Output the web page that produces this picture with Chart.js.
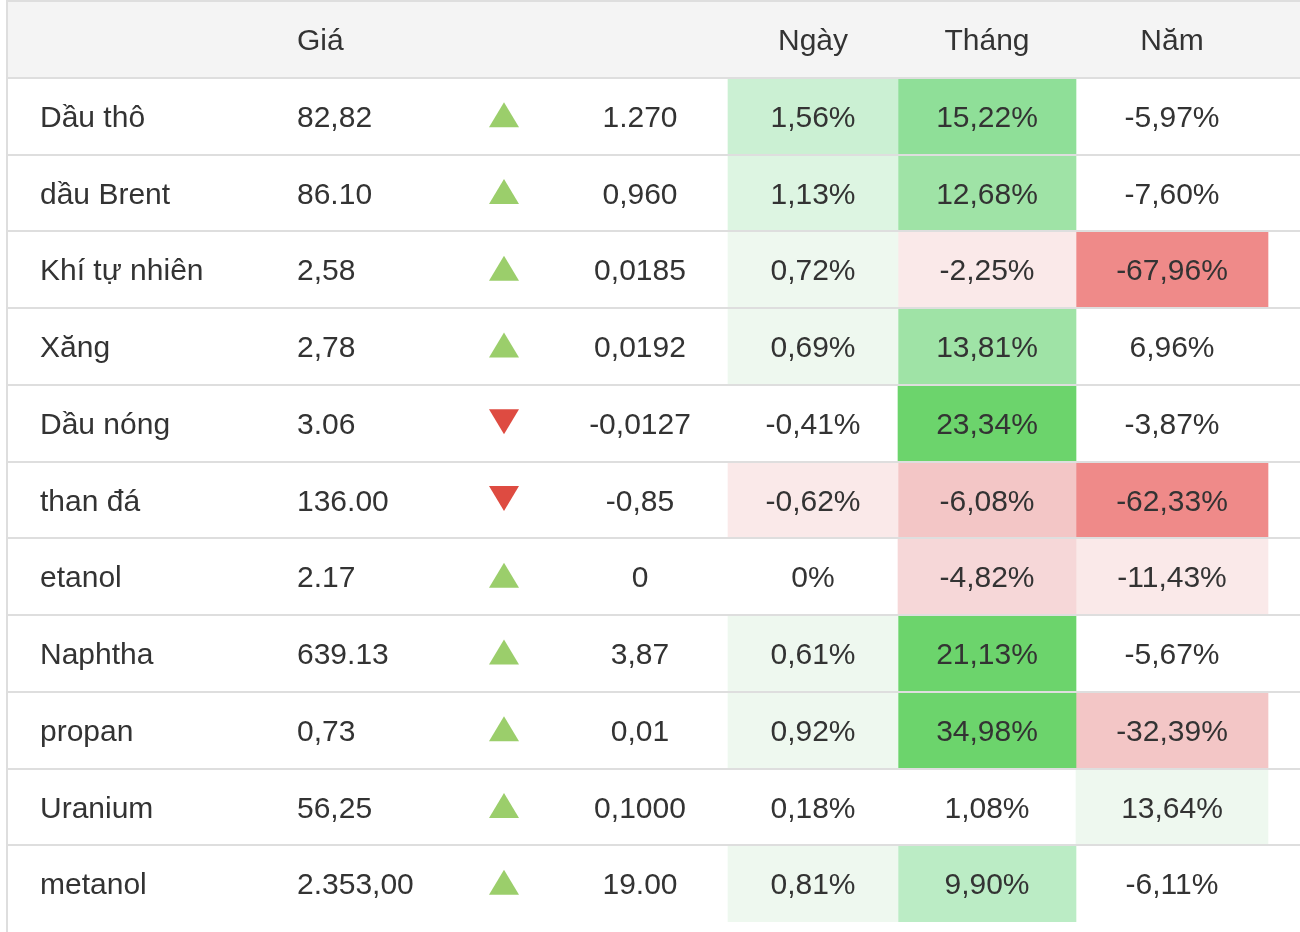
<!DOCTYPE html>
<html lang="vi">
<head>
<meta charset="utf-8">
<title>Năng lượng</title>
<script src="https://cdn.jsdelivr.net/npm/chart.js@4.4.1/dist/chart.umd.min.js"></script>
<style>
  html, body { margin: 0; padding: 0; background: #ffffff; }
  #wrap { position: relative; width: 1300px; height: 932px; }
</style>
</head>
<body>
<div id="wrap"><canvas id="energy-table"></canvas></div>
<script>
// Données du tableau
const headers = ["Giá", "Ngày", "Tháng", "Năm"];
const names = ["Dầu thô", "dầu Brent", "Khí tự nhiên", "Xăng", "Dầu nóng", "than đá", "etanol", "Naphtha", "propan", "Uranium", "metanol"];
const prices = ["82,82", "86.10", "2,58", "2,78", "3.06", "136.00", "2.17", "639.13", "0,73", "56,25", "2.353,00"];
const changes = ["1.270", "0,960", "0,0185", "0,0192", "-0,0127", "-0,85", "0", "3,87", "0,01", "0,1000", "19.00"];
const dayPct = [1.56, 1.13, 0.72, 0.69, -0.41, -0.62, 0, 0.61, 0.92, 0.18, 0.81];
const monthPct = [15.22, 12.68, -2.25, 13.81, 23.34, -6.08, -4.82, 21.13, 34.98, 1.08, 9.90];
const yearPct = [-5.97, -7.6, -67.96, 6.96, -3.87, -62.33, -11.43, -5.67, -32.39, 13.64, -6.11];

// Mise en page (pixels)
const LEFT = 8;
const RIGHT = 1300;
const COL = {
  name: 40,
  price: 297,
  arrow: 504,
  change: 640,
  day: [728, 898],
  month: [898, 1076],
  year: [1076, 1268],
};
const FONT = '30px "Liberation Sans", Arial, sans-serif';
const TEXT = "#333333";
const LINE = "#dedede";

const GREENS = ["#eef8ef", "#ddf5e2", "#cbf0d3", "#bbecc5", "#9fe3a6", "#8fdf98", "#6cd46c"];
const REDS = ["#fae9e9", "#f6d7d8", "#f3c6c6", "#f1a8a8", "#ef8a89"];
const STEPS = {
  day: [0.5, 1, 1.5, 2, 3, 4, 5],
  month: [2, 4, 6, 8, 12, 15, 20],
  year: [10, 20, 30, 45, 60],
};

function shade(v, steps) {
  const level = steps.filter((s) => Math.abs(v) >= s).length;
  if (level === 0) return "rgba(0,0,0,0)";
  const pal = v > 0 ? GREENS : REDS;
  return pal[Math.min(level, pal.length) - 1];
}

function fmtPct(v) {
  if (v === 0) return "0%";
  return v.toFixed(2).replace(".", ",") + "%";
}

const rowLabels = [""].concat(names);

function cellDataset(values, edges, steps) {
  return {
    type: "bar",
    grouped: false,
    data: [null].concat(values.map(() => edges)),
    backgroundColor: ["rgba(0,0,0,0)"].concat(values.map((v) => shade(v, steps))),
    borderWidth: 0,
    categoryPercentage: 1,
    barPercentage: 1,
  };
}

// Textes et flèches dessinés sur les échelles
const tablePlugin = {
  id: "tableText",
  afterDatasetsDraw(chart) {
    const { ctx, scales } = chart;
    const x = scales.x;
    const y = scales.y;
    const capHalf = 30 * 0.716 / 2;
    ctx.save();
    ctx.font = FONT;
    ctx.fillStyle = TEXT;
    ctx.textBaseline = "alphabetic";

    // En-tête
    const hy = y.getPixelForValue(0) + capHalf;
    ctx.textAlign = "left";
    ctx.fillText(headers[0], x.getPixelForValue(COL.price), hy);
    ctx.textAlign = "center";
    ctx.fillText(headers[1], x.getPixelForValue((COL.day[0] + COL.day[1]) / 2), hy);
    ctx.fillText(headers[2], x.getPixelForValue((COL.month[0] + COL.month[1]) / 2), hy);
    ctx.fillText(headers[3], x.getPixelForValue((COL.year[0] + COL.year[1]) / 2), hy);

    names.forEach((name, i) => {
      const cy = y.getPixelForValue(i + 1);
      const ty = cy + capHalf;
      ctx.fillStyle = TEXT;
      ctx.textAlign = "left";
      ctx.fillText(name, x.getPixelForValue(COL.name), ty);
      ctx.fillText(prices[i], x.getPixelForValue(COL.price), ty);
      ctx.textAlign = "center";
      ctx.fillText(changes[i], x.getPixelForValue(COL.change), ty);
      ctx.fillText(fmtPct(dayPct[i]), x.getPixelForValue((COL.day[0] + COL.day[1]) / 2), ty);
      ctx.fillText(fmtPct(monthPct[i]), x.getPixelForValue((COL.month[0] + COL.month[1]) / 2), ty);
      ctx.fillText(fmtPct(yearPct[i]), x.getPixelForValue((COL.year[0] + COL.year[1]) / 2), ty);

      // Flèche haut / bas
      const ax = x.getPixelForValue(COL.arrow);
      const down = changes[i].startsWith("-");
      ctx.beginPath();
      if (down) {
        ctx.moveTo(ax - 15, cy - 14);
        ctx.lineTo(ax + 15, cy - 14);
        ctx.lineTo(ax, cy + 11);
        ctx.fillStyle = "#de4b41";
      } else {
        ctx.moveTo(ax, cy - 14);
        ctx.lineTo(ax + 15, cy + 11);
        ctx.lineTo(ax - 15, cy + 11);
        ctx.fillStyle = "#9bce6b";
      }
      ctx.closePath();
      ctx.fill();
    });

    // Bordure gauche jusqu'en bas
    ctx.strokeStyle = LINE;
    ctx.lineWidth = 2;
    ctx.beginPath();
    ctx.moveTo(chart.chartArea.left - 1, 0);
    ctx.lineTo(chart.chartArea.left - 1, chart.height);
    ctx.stroke();
    ctx.restore();
  },
};

const headerDataset = {
  type: "bar",
  grouped: false,
  data: [[LEFT, RIGHT]].concat(names.map(() => null)),
  backgroundColor: "#f4f4f4",
  borderWidth: 0,
  categoryPercentage: 1,
  barPercentage: 1,
};

const ctx = document.getElementById("energy-table").getContext("2d");
new Chart(ctx, {
  type: "bar",
  data: {
    labels: rowLabels,
    datasets: [
      headerDataset,
      cellDataset(dayPct, COL.day, STEPS.day),
      cellDataset(monthPct, COL.month, STEPS.month),
      cellDataset(yearPct, COL.year, STEPS.year),
    ],
  },
  options: {
    indexAxis: "y",
    responsive: true,
    maintainAspectRatio: false,
    animation: false,
    layout: { padding: { left: LEFT, top: 1, right: 0, bottom: 10 } },
    plugins: {
      legend: { display: false },
      tooltip: { enabled: false },
    },
    scales: {
      x: {
        type: "linear",
        min: LEFT,
        max: RIGHT,
        display: false,
      },
      y: {
        type: "category",
        offset: true,
        grid: {
          offset: true,
          z: 1,
          drawTicks: false,
          lineWidth: 2,
          color: (c) => (c.type === "tick" ? LINE : "rgba(0,0,0,0)"),
        },
        ticks: { display: false },
        border: { display: false },
      },
    },
  },
  plugins: [tablePlugin],
});
</script>
</body>
</html>
